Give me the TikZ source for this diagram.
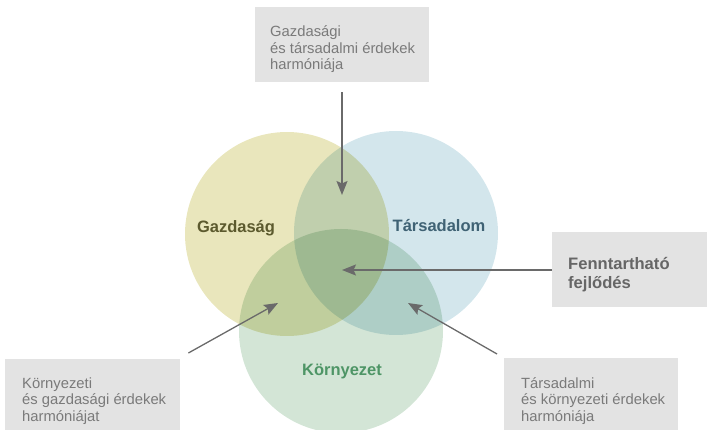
\documentclass[tikz,border=0pt]{standalone}
\usepackage{fontspec}
\setmainfont{Liberation Sans}
\usetikzlibrary{arrows.meta}
\definecolor{cyel}{HTML}{E9E6BC}
\definecolor{cblue}{HTML}{D3E6EC}
\definecolor{cgreen}{HTML}{D3E5D6}
\definecolor{boxgray}{HTML}{E3E3E3}
\definecolor{txtgray}{HTML}{7A7A7A}
\definecolor{arrgray}{HTML}{6A6A6A}
\definecolor{titlegray}{HTML}{666666}
\definecolor{lgaz}{HTML}{5C5A2E}
\definecolor{ltar}{HTML}{3F6274}
\definecolor{lkor}{HTML}{4E9566}
\tikzset{
  greybox/.style={fill=boxgray, draw=none, inner sep=0pt, anchor=north west},
  boxtext/.style={font=\fontsize{14.8}{16.5}\selectfont, text=txtgray, align=left, anchor=base west, inner sep=0pt},
  titletext/.style={font=\fontsize{16.6}{19}\selectfont\bfseries, text=titlegray, align=left, anchor=base west, inner sep=0pt},
  circlabel/.style={font=\fontsize{16.5}{19}\selectfont\bfseries, anchor=base, inner sep=0pt},
  pointer/.style={draw=arrgray, line width=1.3pt, -{Stealth[length=14pt,width=11pt,inset=2.5pt]}}
}
\begin{document}
\begin{tikzpicture}[x=1pt,y=-1pt]
\useasboundingbox (0,0) rectangle (707,430);
\begin{scope}
\clip (0,0) rectangle (707,430);
\fill[cyel, blend mode=multiply] (287,234) circle[radius=102];
\fill[cblue, blend mode=multiply] (396,233) circle[radius=102];
\fill[cgreen, blend mode=multiply] (341,331) circle[radius=102];
\end{scope}

% circle labels
\node[circlabel, text=lgaz] (gaz) at (236,233) {Gazdaság};
\node[circlabel, text=ltar] (tar) at (439,232) {Társadalom};
\node[circlabel, text=lkor] (kor) at (342,375) {Környezet};

% boxes (text anchored at the baseline of its last line)
\node[greybox, minimum width=174pt, minimum height=75pt] (tbox) at (255,7) {};
\node[boxtext] (ttxt) at (270,70) {Gazdasági\\és társadalmi érdekek\\harmóniája};

\node[greybox, minimum width=155pt, minimum height=75pt] (fbox) at (552,232) {};
\node[titletext] (ftxt) at (568,289) {Fenntartható\\fejlődés};

\node[greybox, minimum width=175pt, minimum height=72pt] (lbox) at (5,359) {};
\node[boxtext] (ltxt) at (22,421) {Környezeti\\és gazdasági érdekek\\harmóniájat};

\node[greybox, minimum width=174pt, minimum height=72pt] (rbox) at (504,358) {};
\node[boxtext] (rtxt) at (521,421) {Társadalmi\\és környezeti érdekek\\harmóniája};

% pointer targets and starts
\coordinate (tgtop) at (342,195);
\coordinate (tgcen) at (342,270);
\coordinate (tgleft) at (278,303);
\coordinate (tgright) at (408,303);
\coordinate (stop) at ([yshift=-10pt]tbox.south -| tgtop);
\coordinate (sleft) at ([xshift=8pt,yshift=6pt]lbox.north east);
\coordinate (sright) at ([xshift=-7pt,yshift=4pt]rbox.north west);

\draw[pointer] (stop) -- (tgtop);
\draw[pointer] (fbox.west |- tgcen) -- (tgcen);
\draw[pointer] (sleft) -- (tgleft);
\draw[pointer] (sright) -- (tgright);
\end{tikzpicture}
\end{document}
